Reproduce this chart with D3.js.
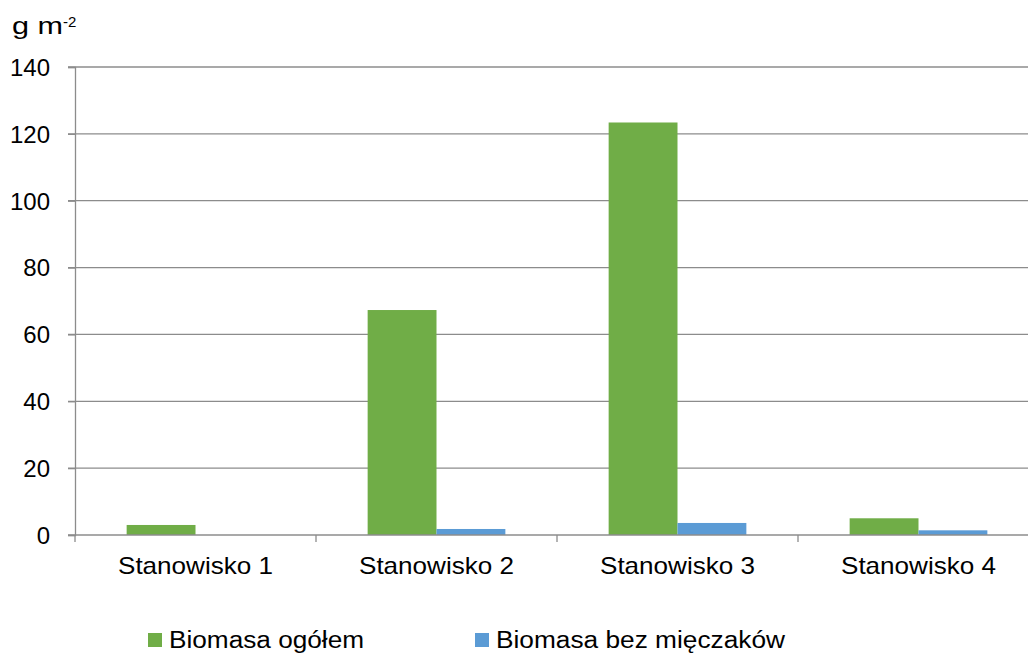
<!DOCTYPE html>
<html><head><meta charset="utf-8">
<script src="https://cdn.jsdelivr.net/npm/d3@7"></script>
<style>body{margin:0;background:#fff;overflow:hidden}text{font-family:"Liberation Sans",Arial,sans-serif;fill:#000}</style>
</head><body><svg id="c" width="1028" height="653"></svg>
<script>
const categories = ["Stanowisko 1","Stanowisko 2","Stanowisko 3","Stanowisko 4"];
const seriesNames = ["Biomasa ogółem","Biomasa bez mięczaków"];
const ogolem = [3.0, 67.3, 123.4, 5.0];
const bezMieczakow = [0, 1.8, 3.6, 1.4];
const yTicks = [0,20,40,60,80,100,120,140];
const colors = ["#70AD47","#5B9BD5"];

(function(){
const svg = d3.select("#c");
const pL = 75, pR = 1039, pT = 67, pB = 535;
const x = d3.scaleBand().domain(categories).range([pL, pR]).paddingInner(0).paddingOuter(0);
const y = d3.scaleLinear().domain([0,140]).range([pB, pT]);
const grid = "#8c8c8c";
const FF = "Liberation Sans, Arial, sans-serif";

// gridlines
svg.append("g").selectAll("line").data(yTicks.filter(d=>d>0)).join("line")
  .attr("x1", pL-7).attr("x2", pR).attr("y1", d=>y(d)).attr("y2", d=>y(d))
  .attr("stroke", grid).attr("stroke-width", 1.3);

// y axis
const yAx = svg.append("g").attr("transform",`translate(${pL},0)`)
  .call(d3.axisLeft(y).tickValues(yTicks).tickSize(7).tickPadding(18));
yAx.select(".domain").attr("stroke", grid).attr("stroke-width",1.3);
yAx.selectAll(".tick line").attr("stroke", grid).attr("stroke-width",1.3);
yAx.selectAll("text").attr("font-size", 24).attr("font-family",FF).attr("fill","#000").attr("dy","0.35em");

// bars
const sub = d3.scaleBand().domain([0,1]).range([0, x.bandwidth()]).paddingInner(0).paddingOuter(0.75);
const data = categories.map((c,i)=>({c, vals:[ogolem[i], bezMieczakow[i]]}));
const g = svg.append("g");
data.forEach(d=>{
  d.vals.forEach((v,k)=>{
    if (v<=0) return;
    g.append("rect").attr("x", x(d.c)+sub(k)).attr("width", sub.bandwidth())
      .attr("y", y(v)).attr("height", y(0)-y(v)).attr("fill", colors[k]);
  });
});

// x axis
const xAx = svg.append("g").attr("transform",`translate(0,${pB})`)
  .call(d3.axisBottom(x).tickSize(0).tickPadding(22));
xAx.select(".domain").remove();
svg.append("line").attr("x1", pL-7).attr("x2", pR).attr("y1", pB).attr("y2", pB).attr("stroke", grid).attr("stroke-width",1.3);
xAx.selectAll("text").attr("font-size", 24).attr("font-family",FF).attr("fill","#000")
  .attr("dy", null).attr("y", 39).attr("textLength", 155).attr("lengthAdjust","spacingAndGlyphs");
svg.append("g").selectAll("line").data(categories.slice(1)).join("line")
  .attr("x1", d=>x(d)).attr("x2", d=>x(d)).attr("y1", pB).attr("y2", pB+7)
  .attr("stroke", grid).attr("stroke-width",1.3);
svg.append("line").attr("x1", pL).attr("x2", pL).attr("y1", pB).attr("y2", pB+7).attr("stroke", grid).attr("stroke-width",1.3);

// y label
svg.append("text").attr("x", 12).attr("y", 34).attr("font-size", 24)
  .attr("textLength", 51).attr("lengthAdjust","spacingAndGlyphs").text("g m");
svg.append("text").attr("x", 63).attr("y", 27).attr("font-size", 15).text("-2");

// legend
const legX = [148, 475];
const legW = [195, 289];
seriesNames.forEach((n,i)=>{
  svg.append("rect").attr("x", legX[i]).attr("y", 633).attr("width", 14).attr("height", 14).attr("fill", colors[i]);
  svg.append("text").attr("x", legX[i]+21).attr("y", 648).attr("font-size", 23)
    .attr("textLength", legW[i]).attr("lengthAdjust","spacingAndGlyphs").text(n);
});
})();
</script></body></html>
